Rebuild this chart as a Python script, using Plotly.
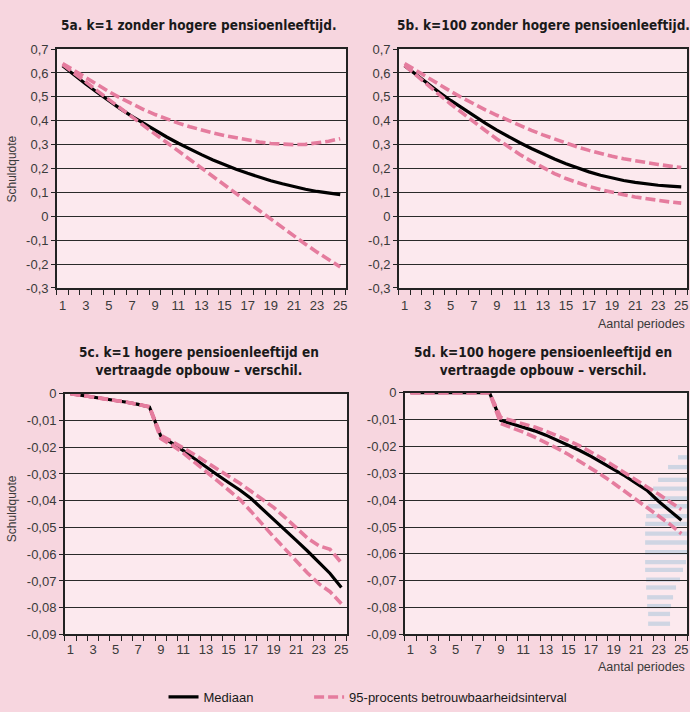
import plotly.graph_objects as go

W, H = 690, 712

periods = list(range(1, 26))

# 5a. k=1 zonder hogere pensioenleeftijd
a_median = [0.630, 0.591, 0.554, 0.518, 0.483, 0.450, 0.418, 0.388, 0.359, 0.332,
            0.306, 0.281, 0.258, 0.236, 0.216, 0.197, 0.180, 0.163, 0.149, 0.136,
            0.124, 0.113, 0.104, 0.097, 0.091]
a_upper = [0.640, 0.610, 0.580, 0.550, 0.522, 0.495, 0.470, 0.447, 0.426, 0.407,
           0.390, 0.375, 0.361, 0.349, 0.338, 0.328, 0.319, 0.311, 0.305, 0.301,
           0.300, 0.301, 0.306, 0.314, 0.325]
a_lower = [0.635, 0.600, 0.563, 0.525, 0.488, 0.451, 0.415, 0.379, 0.344, 0.309,
           0.274, 0.239, 0.204, 0.168, 0.132, 0.096, 0.060, 0.024, -0.012, -0.048,
           -0.083, -0.117, -0.150, -0.182, -0.212]

# 5b. k=100 zonder hogere pensioenleeftijd
b_median = [0.630, 0.592, 0.555, 0.519, 0.485, 0.452, 0.420, 0.390, 0.361, 0.334,
            0.308, 0.284, 0.261, 0.240, 0.220, 0.202, 0.186, 0.172, 0.160, 0.150,
            0.142, 0.135, 0.130, 0.126, 0.123]
b_upper = [0.640, 0.610, 0.580, 0.551, 0.523, 0.496, 0.470, 0.446, 0.423, 0.401,
           0.380, 0.360, 0.341, 0.323, 0.306, 0.290, 0.276, 0.263, 0.251, 0.241,
           0.232, 0.224, 0.217, 0.210, 0.204]
b_lower = [0.632, 0.590, 0.549, 0.509, 0.470, 0.432, 0.395, 0.359, 0.324, 0.290,
           0.259, 0.230, 0.203, 0.179, 0.158, 0.140, 0.125, 0.112, 0.100, 0.090,
           0.081, 0.073, 0.066, 0.060, 0.055]

# 5c. k=1 hogere pensioenleeftijd en vertraagde opbouw - verschil
c_median = [0.0, -0.0006, -0.0012, -0.0018, -0.0025, -0.0032, -0.0040, -0.0050, -0.0158, -0.0185,
            -0.0213, -0.0243, -0.0274, -0.0303, -0.0332, -0.0360, -0.0392, -0.0430, -0.0470, -0.0510,
            -0.0548, -0.0588, -0.0630, -0.0672, -0.0724]
c_upper = [0.0, -0.0006, -0.0012, -0.0018, -0.0025, -0.0032, -0.0040, -0.0048, -0.0155, -0.0178,
           -0.0203, -0.0228, -0.0254, -0.0280, -0.0307, -0.0335, -0.0365, -0.0393, -0.0425, -0.0462,
           -0.0500, -0.0540, -0.0568, -0.0582, -0.0632]
c_lower = [0.0, -0.0006, -0.0012, -0.0018, -0.0025, -0.0032, -0.0040, -0.0050, -0.0168, -0.0193,
           -0.0222, -0.0255, -0.0290, -0.0325, -0.0360, -0.0395, -0.0440, -0.0490, -0.0535, -0.0580,
           -0.0625, -0.0670, -0.0710, -0.0740, -0.0785]

# 5d. k=100 hogere pensioenleeftijd en vertraagde opbouw - verschil
d_median = [0.0, 0.0, 0.0, 0.0, 0.0, 0.0, 0.0, 0.0, -0.0103, -0.0115,
            -0.0128, -0.0142, -0.0158, -0.0176, -0.0195, -0.0215, -0.0237, -0.0260, -0.0285, -0.0310,
            -0.0337, -0.0365, -0.0405, -0.0440, -0.0475]
d_upper = [0.0, 0.0, 0.0, 0.0, 0.0, 0.0, 0.0, 0.0, -0.0092, -0.0103,
           -0.0115, -0.0128, -0.0143, -0.0160, -0.0178, -0.0198, -0.0220, -0.0245, -0.0272, -0.0300,
           -0.0328, -0.0352, -0.0378, -0.0405, -0.0435]
d_lower = [0.0, 0.0, 0.0, 0.0, 0.0, 0.0, 0.0, 0.0, -0.0115, -0.0130,
           -0.0147, -0.0165, -0.0185, -0.0207, -0.0230, -0.0255, -0.0281, -0.0308, -0.0337, -0.0368,
           -0.0398, -0.0428, -0.0458, -0.0490, -0.0525]

titles = ["5a. k=1 zonder hogere pensioenleeftijd.",
          "5b. k=100 zonder hogere pensioenleeftijd.",
          "5c. k=1 hogere pensioenleeftijd en<br>vertraagde opbouw \u2013 verschil.",
          "5d. k=100 hogere pensioenleeftijd en<br>vertraagde opbouw \u2013 verschil."]

y_top_vals = [0.7, 0.6, 0.5, 0.4, 0.3, 0.2, 0.1, 0.0, -0.1, -0.2, -0.3]
y_top_text = ["0,7", "0,6", "0,5", "0,4", "0,3", "0,2", "0,1", "0", "-0,1", "-0,2", "-0,3"]
y_bot_vals = [0.0, -0.01, -0.02, -0.03, -0.04, -0.05, -0.06, -0.07, -0.08, -0.09]
y_bot_text = ["0", "-0,01", "-0,02", "-0,03", "-0,04", "-0,05", "-0,06", "-0,07", "-0,08", "-0,09"]
x_tick_vals = list(range(1, 26, 2))
x_tick_text = [str(v) for v in x_tick_vals]

series_names = ["Mediaan", "95-procents betrouwbaarheidsinterval"]
y_title = "Schuldquote"
x_title = "Aantal periodes"

# ---------------- styling ----------------
PAGE_BG = "#f7d6df"
PLOT_BG = "#fce9ee"
PINK = "#e57c9e"
BLACK = "#000000"
TICK_FONT = dict(family="Liberation Sans, Arial, sans-serif", size=13, color="#3a3a3a")
TITLE_FONT = dict(family="DejaVu Sans Condensed, sans-serif", size=13.5, color="#1a1a1a")
LEGEND_FONT = dict(family="Liberation Sans, Arial, sans-serif", size=13, color="#1a1a1a")


def px_x(p):
    return p / W


def px_y(p):
    return 1 - p / H


# panel boxes in pixels: (left, right, top, bottom)
boxes = [(57, 347, 43, 287), (400, 689, 43, 287), (65, 348, 395, 641), (406, 689, 394, 641)]
data = [(a_median, a_upper, a_lower), (b_median, b_upper, b_lower),
        (c_median, c_upper, c_lower), (d_median, d_upper, d_lower)]

fig = go.Figure()
layout = dict(
    width=W, height=H, margin=dict(l=0, r=0, t=0, b=0),
    paper_bgcolor=PAGE_BG, plot_bgcolor=PLOT_BG,
    separators=",.",
    showlegend=True,
)

for i, ((l, r, t, b), (med, up, lo)) in enumerate(zip(boxes, data)):
    n = "" if i == 0 else str(i + 1)
    xa, ya = "x" + n, "y" + n
    fig.add_trace(go.Scatter(x=periods, y=med, mode="lines", xaxis=xa, yaxis=ya,
                             line=dict(color=BLACK, width=3.2), name=series_names[0],
                             legend="legend", showlegend=(i == 0)))
    fig.add_trace(go.Scatter(x=periods, y=up, mode="lines", xaxis=xa, yaxis=ya,
                             line=dict(color=PINK, width=3.6, dash="10px,4px"), name=series_names[1],
                             legend="legend2", showlegend=(i == 0)))
    fig.add_trace(go.Scatter(x=periods, y=lo, mode="lines", xaxis=xa, yaxis=ya,
                             line=dict(color=PINK, width=3.6, dash="10px,4px"), name=series_names[1],
                             legend="legend2", showlegend=False))
    top = i < 2
    layout["xaxis" + n] = dict(
        domain=[px_x(l), px_x(r)], anchor=ya, range=[0.5, 25.5],
        tickmode="array", tickvals=x_tick_vals, ticktext=x_tick_text,
        ticks="outside", ticklen=5 if top else 2, tickcolor="rgba(0,0,0,0)",
        minor=dict(tickmode="array", tickvals=[k + 0.5 for k in range(0, 26)],
                   ticks="outside", ticklen=5, tickcolor="#222", tickwidth=1, showgrid=False),
        showgrid=False, zeroline=False, showline=True, mirror=True,
        linecolor="#222", linewidth=1.5, tickfont=TICK_FONT, fixedrange=True,
    )
    layout["yaxis" + n] = dict(
        domain=[px_y(b), px_y(t)], anchor=xa,
        range=[-0.3, 0.7] if top else [-0.09, 0.0],
        tickmode="array", tickvals=y_top_vals if top else y_bot_vals,
        ticktext=y_top_text if top else y_bot_text,
        ticks="outside", ticklen=4, tickcolor="#222",
        showgrid=True, gridcolor="#2a2a2a", gridwidth=1,
        zeroline=False, showline=True, mirror=True, linecolor="#222", linewidth=1.5,
        tickfont=TICK_FONT, fixedrange=True,
    )

annotations = []
title_pos = [(200, 18), (545, 18), (200, 362), (545, 362)]
for txt, (cx, cy) in zip(titles, title_pos):
    annotations.append(dict(text="<b>" + txt + "</b>", x=px_x(cx), y=px_y(cy), xref="paper", yref="paper",
                            xanchor="center", yanchor="middle", showarrow=False, font=TITLE_FONT,
                            align="center"))
for cy in (165, 512):
    annotations.append(dict(text=y_title, x=px_x(12), y=px_y(cy), xref="paper", yref="paper",
                            textangle=-90, xanchor="center", yanchor="middle", showarrow=False,
                            font=dict(family="Liberation Sans, Arial, sans-serif", size=12, color="#3a3a3a")))
for cy in (324, 674):
    annotations.append(dict(text=x_title, x=px_x(689), y=px_y(cy), xref="paper", yref="paper",
                            xanchor="right", yanchor="middle", showarrow=False,
                            font=dict(family="Liberation Sans, Arial, sans-serif", size=12.5, color="#3a3a3a")))
layout["annotations"] = annotations

# decorative logo stripes (bottom right)
stripes = [(460, 680, 690), (470, 670, 690), (483, 660, 690), (492, 655, 690), (502, 652, 690),
           (510, 650, 690), (520, 648, 690), (528, 647, 690), (538, 647, 690), (547, 647, 690),
           (557, 647, 690), (567, 647, 688), (575, 647, 685), (585, 648, 682), (593, 648, 678),
           (603, 649, 675), (612, 649, 673), (620, 650, 672), (630, 650, 672)]
shapes = []
for yc, x0, x1 in stripes:
    shapes.append(dict(type="rect", xref="paper", yref="paper", x0=px_x(x0), x1=px_x(x1),
                       y0=px_y(yc + 2.2), y1=px_y(yc - 2.2), fillcolor="#cfd5e3",
                       line=dict(width=0), layer="between"))
layout["shapes"] = shapes

layout["legend"] = dict(orientation="h", x=px_x(164), xanchor="left", y=px_y(705), yanchor="middle",
                        bgcolor="rgba(0,0,0,0)", font=LEGEND_FONT)
layout["legend2"] = dict(orientation="h", x=px_x(310), xanchor="left", y=px_y(705), yanchor="middle",
                         bgcolor="rgba(0,0,0,0)", font=LEGEND_FONT)

fig.update_layout(**layout)
fig.write_html("out.html", config={"displayModeBar": False},
               post_script="document.body.style.margin='0';document.body.style.padding='0';")
